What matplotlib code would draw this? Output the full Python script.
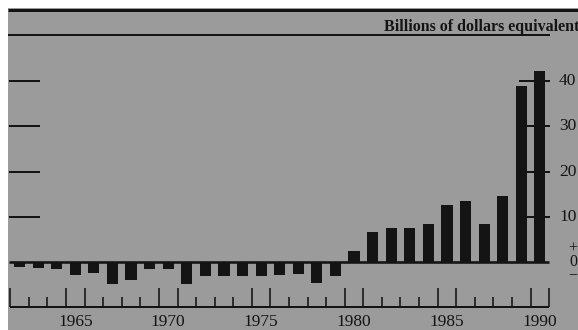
import matplotlib
matplotlib.use('Agg')
import matplotlib.pyplot as plt

# net flows, billions of dollars equivalent
years = list(range(1962, 1991))
values = [-1.0, -1.4, -1.6, -2.9, -2.4, -4.9, -4.0, -1.5, -1.6, -4.9,
          -3.2, -3.2, -3.2, -3.2, -2.8, -2.7, -4.6, -3.2, 2.4, 6.6,
          7.6, 7.6, 8.3, 12.6, 13.4, 8.5, 14.5, 38.9, 42.3]
y_ticks = [10, 20, 30, 40]
x_labels = [1965, 1970, 1975, 1980, 1985, 1990]
unit_label = 'Billions of dollars equivalent'

W, H = 578, 330
BG = '#9b9b9b'
INK = '#141414'
SERIF = ['Liberation Serif', 'DejaVu Serif']

# pixel scale of the original
X0_PX, PX_YEAR = 10.3, 18.58
Y0_PX, PX_UNIT = 262.0, 4.52


def px_x(px):
    return years[0] - 0.5 + (px - X0_PX) / PX_YEAR


def px_y(py):
    return (Y0_PX - py) / PX_UNIT


fig = plt.figure(figsize=(W / 100.0, H / 100.0), dpi=100)
ax = fig.add_axes([8.0 / W, 0, (W - 8.0) / W, (H - 8.0) / H])
ax.set_facecolor(BG)
ax.set_xlim(px_x(8), px_x(W))
ax.set_ylim(px_y(H), px_y(8))
for s in ax.spines.values():
    s.set_visible(False)
ax.set_xticks([])
ax.set_yticks([])

# bars
ax.bar(years, values, width=0.6, color=INK, zorder=3)

# zero line
ax.hlines(0, px_x(9), years[-1] + 0.5, color=INK, lw=2.6 * 0.72, zorder=4)

# top rules and unit label
ax.hlines(px_y(10), px_x(8), px_x(W), color=INK, lw=3 * 0.72)
ax.hlines(px_y(35), px_x(8), px_x(550), color=INK, lw=2 * 0.72)
ax.text(px_x(579), px_y(31), unit_label, ha='right', va='baseline',
        fontsize=11.5, fontweight='bold', family=SERIF, color=INK)

# value gridmarks on both sides
ax.hlines(y_ticks, px_x(9), px_x(40), color=INK, lw=2 * 0.72, zorder=4)
ax.hlines(y_ticks, px_x(519), px_x(550), color=INK, lw=2 * 0.72, zorder=4)
for v in y_ticks:
    ax.text(px_x(559), v, str(v), ha='left', va='center',
            fontsize=12.5, family=SERIF, color=INK)
# stacked +/0/- marker at the zero line
ax.text(px_x(573), px_y(262), '+\n0\n\u2212', ha='center', va='center',
        ma='center', fontsize=11.5, linespacing=0.8, family=SERIF, color=INK)

# year axis with ticks on year boundaries
axis_y = px_y(307)
ax.hlines(axis_y, years[0] - 0.5, years[-1] + 0.5, color=INK, lw=2 * 0.72)
for b in range(years[0], years[-1] + 2):
    edge = b - 0.5
    tall = b % 5 == 0 or (b - 1) % 5 == 0 or b == years[0] or b == years[-1] + 1
    top = px_y(288) if tall else px_y(297)
    ax.vlines(edge, axis_y, top, color=INK, lw=1.6 * 0.72)
for yr in x_labels:
    ax.text(yr, px_y(322), str(yr), ha='center', va='center',
            fontsize=12.5, family=SERIF, color=INK)

fig.savefig('out.png', dpi=100)
